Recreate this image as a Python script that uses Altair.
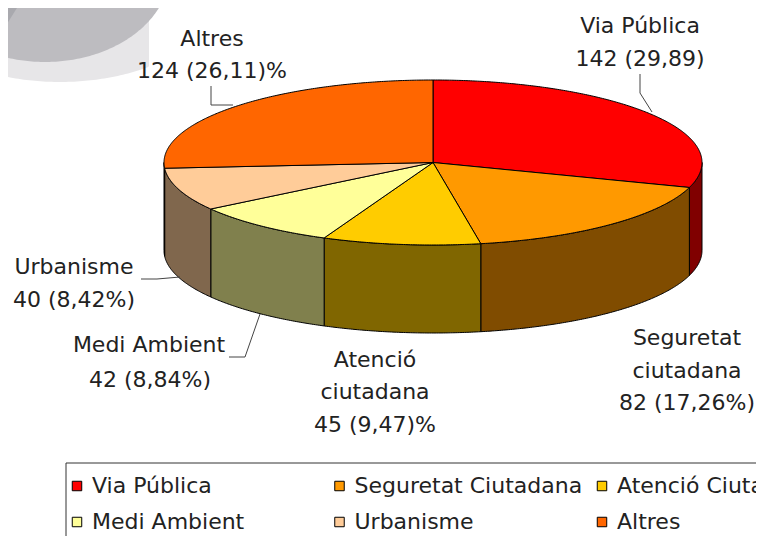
import math
import altair as alt
import pandas as pd

# Data
categories = ["Via Pública", "Seguretat Ciutadana", "Atenció Ciutadana", "Medi Ambient", "Urbanisme", "Altres"]
counts = [142, 82, 45, 42, 40, 124]
top_colors = ["#FF0000", "#FF9900", "#FFCC00", "#FFFF99", "#FFCC99", "#FF6600"]
side_colors = ["#800000", "#804C00", "#806600", "#80804D", "#80674D", "#803300"]

label_lines = ["Via Pública", "142 (29,89)", "Altres", "124 (26,11)%", "Urbanisme", "40 (8,42%)",
               "Medi Ambient", "42 (8,84%)", "Atenció", "ciutadana", "45 (9,47)%",
               "Seguretat", "ciutadana", "82 (17,26%)"]
label_x = [640, 640, 212, 212, 74, 74, 149, 150, 375, 375, 375, 687, 687, 687]
label_y = [26, 59, 39, 71, 267, 300, 345, 380, 360, 392, 425, 338, 371, 403]

# Leader lines: x1, y1, x2, y2 in page pixels
leaders = [(211, 86, 211, 105), (211, 105, 233, 105), (640, 74, 640, 93), (640, 93, 652, 112),
           (141, 279, 157, 279), (157, 279, 180, 277), (229, 357, 245, 357), (245, 357, 260, 314)]

# Layout
OFF = 8
W, H = 748, 528
CX, CY, RX, RY, DEPTH = 433, 162.5, 269, 82.5, 88
FONT = "DejaVu Sans"
FS = 22
TEXT_COLOR = "#222222"

xs = alt.X("x:Q", scale=alt.Scale(domain=[0, W]), axis=None)
ys = alt.Y("y:Q", scale=alt.Scale(domain=[H, 0]), axis=None)


def pt(deg, drop=0):
    a = math.radians(deg)
    return CX + RX * math.sin(a) - OFF, CY - RY * math.cos(a) + drop - OFF


def arc(a0, a1, drop=0):
    n = max(2, int(abs(a1 - a0) * 2) + 1)
    return [pt(a0 + (a1 - a0) * i / (n - 1), drop) for i in range(n)]


def ellipse(cx, cy, rx, ry, xmax=None):
    out = []
    for i in range(361):
        a = math.radians(i)
        x = cx + rx * math.sin(a)
        if xmax is not None:
            x = min(x, xmax)
        out.append((x - OFF, cy - ry * math.cos(a) - OFF))
    return out


def poly_layer(points, fill, stroke=None, clip=False):
    df = pd.DataFrame({"x": [p[0] for p in points], "y": [p[1] for p in points], "o": range(len(points))})
    kw = dict(fill=fill, clip=clip)
    if stroke:
        kw.update(stroke=stroke, strokeWidth=1)
    else:
        kw.update(strokeWidth=0)
    return alt.Chart(df).mark_line(**kw).encode(x=xs, y=ys, order="o:Q")


total = sum(counts)
top_rows = []
layers = []

# Legend frame
layers.append(
    alt.Chart(pd.DataFrame({"i": [0]})).mark_rect(fill="transparent", stroke="#333333", strokeWidth=1).encode(
        x=alt.value(66 - OFF), x2=alt.value(900), y=alt.value(463 - OFF), y2=alt.value(600))
)

# Pale watermark at the top left
layers.append(poly_layer(ellipse(60, -10, 161, 92, xmax=149), "#E7E6E8", clip=True))
layers.append(poly_layer(ellipse(45, -30, 125, 92), "#BDBCC0", clip=True))
layers.append(poly_layer([(-8, -8), (14, -8), (-8, 27), (-8, -8)], "#A9A9AE", clip=True))

# Pie walls and top
start = 0.0
for cat, n, side in zip(categories, counts, side_colors):
    end = start + 360.0 * n / total
    a0, a1 = max(start, 90.0), min(end, 270.0)
    if a1 > a0:
        wall = arc(a0, a1) + arc(a1, a0, DEPTH)
        wall.append(wall[0])
        layers.append(poly_layer(wall, side, "black"))
    wedge = [(CX - OFF, CY - OFF)] + arc(start, end) + [(CX - OFF, CY - OFF)]
    for i, p in enumerate(wedge):
        top_rows.append({"category": cat, "x": p[0], "y": p[1], "o": i})
    start = end

fill_scale = alt.Scale(domain=categories, range=top_colors)
layers.append(
    alt.Chart(pd.DataFrame(top_rows)).mark_line(stroke="black", strokeWidth=1).encode(
        x=xs, y=ys, order="o:Q",
        fill=alt.Fill("category:N", scale=fill_scale, sort=categories,
                      legend=alt.Legend(orient="none", legendX=58, legendY=467, title=None, columns=3,
                                        direction="horizontal",
                                        gridAlign="all", symbolType="square", symbolSize=90,
                                        symbolStrokeColor="black", symbolStrokeWidth=1,
                                        labelFont=FONT, labelFontSize=FS, labelColor=TEXT_COLOR,
                                        labelLimit=236, columnPadding=8.5, rowPadding=14,
                                        labelOffset=4, padding=0)),
    )
)

# Leader lines
for x1, y1, x2, y2 in leaders:
    layers.append(
        alt.Chart(pd.DataFrame({"i": [0]})).mark_rule(color="#444444", strokeWidth=1).encode(
            x=alt.value(x1 - OFF), x2=alt.value(x2 - OFF), y=alt.value(y1 - OFF), y2=alt.value(y2 - OFF))
    )

# Data labels
lab = pd.DataFrame({"t": label_lines, "x": [v - OFF for v in label_x], "y": [v - OFF for v in label_y]})
layers.append(
    alt.Chart(lab).mark_text(font=FONT, fontSize=FS, color=TEXT_COLOR, align="center", baseline="middle").encode(
        x=xs, y=ys, text="t:N")
)

chart = alt.layer(*layers).properties(
    width=W, height=H, padding=0, autosize=alt.AutoSizeParams(type="none"),
).configure_view(stroke=None)

chart.save("out.html", embed_options={"renderer": "svg", "actions": False})
